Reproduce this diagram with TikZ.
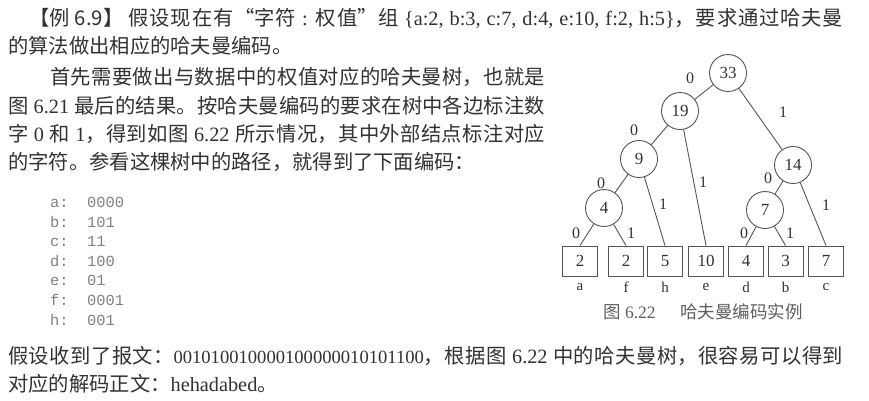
\documentclass[tikz,border=0pt]{standalone}
\usepackage{fontspec}
\setmainfont{Noto Sans CJK SC}
\newfontfamily\lat{Liberation Serif}
\newfontfamily\mono{Liberation Mono}
\XeTeXlinebreaklocale "zh"
\XeTeXlinebreakskip=0pt plus 3pt
\newcommand\la[1]{{\lat #1}}
\newcommand\jline[2]{\parbox{#1}{\tolerance=10000\hbadness=10000\parfillskip=0pt\relax #2\par}}
\definecolor{ink}{RGB}{50,50,50}
\definecolor{codegray}{RGB}{130,130,130}
\definecolor{linegray}{RGB}{85,85,85}
\definecolor{capgray}{RGB}{95,95,95}
\begin{document}
\begin{tikzpicture}[x=1pt,y=-1pt,
  every node/.style={inner sep=0pt, text=ink},
  txt/.style={anchor=west, font=\fontsize{20.3}{24}\selectfont},
  codeline/.style={anchor=west, font=\mono\fontsize{15.4}{18}\selectfont, text=codegray},
  inode/.style={circle, draw=linegray, line width=0.9pt, minimum size=37pt, font=\lat\fontsize{17}{20}\selectfont},
  leaf/.style={rectangle, draw=linegray, line width=0.9pt, minimum width=35pt, minimum height=30pt, font=\lat\fontsize{17}{20}\selectfont},
  elab/.style={font=\lat\fontsize{16}{18}\selectfont},
  llab/.style={font=\lat\fontsize{15}{18}\selectfont},
  captxt/.style={anchor=west, font=\fontsize{17.5}{20}\selectfont, text=capgray},
  conn/.style={draw=linegray, line width=0.9pt}]
\useasboundingbox (0,0) rectangle (869,400);
\fill[white] (0,0) rectangle (869,400);

% text
\node[txt] (t1) at (29,18) {\jline{814pt}{【例 6.9】 假设现在有“字符\la{ : }权值”组 \la{\{a:2, b:3, c:7, d:4, e:10, f:2, h:5\}}，要求通过哈夫曼}};
\node[txt] (t2) at (8,46) {的算法做出相应的哈夫曼编码。};
\node[txt] (p1) at (50,77) {\jline{495pt}{首先需要做出与数据中的权值对应的哈夫曼树，也就是}};
\node[txt] (p2) at (8,106) {\jline{537pt}{图\la{ 6.21 }最后的结果。按哈夫曼编码的要求在树中各边标注数}};
\node[txt] (p3) at (8,134) {\jline{537pt}{字\la{ 0 }和\la{ 1}，得到如图\la{ 6.22 }所示情况，其中外部结点标注对应}};
\node[txt] (p4) at (8,162) {的字符。参看这棵树中的路径，就得到了下面编码：};

\node[codeline] (ca) at (50,202) {a:~~0000};
\node[codeline] (cb) at (50,221.5) {b:~~101};
\node[codeline] (cc) at (50,241) {c:~~11};
\node[codeline] (cd) at (50,261) {d:~~100};
\node[codeline] (ce) at (50,280.5) {e:~~01};
\node[codeline] (cf) at (50,300) {f:~~0001};
\node[codeline] (ch) at (50,320) {h:~~001};

\node[txt] (b1) at (8,356) {\jline{835pt}{假设收到了报文：{\lat\fontsize{18.6}{24}\selectfont 001010010000100000010101100}，根据图\la{ 6.22 }中的哈夫曼树，很容易可以得到}};
\node[txt] (b2) at (8,384) {对应的解码正文：\la{hehadabed}。};

% tree
\node[inode] (n33) at (728,73) {33};
\node[inode] (n19) at (680,111) {19};
\node[inode] (n9) at (639,159) {9};
\node[inode] (n4) at (604,208) {4};
\node[inode] (n14) at (793,165) {14};
\node[inode] (n7) at (765,210) {7};

\node[leaf] (la) at (580,261) {2};
\node[leaf] (lf) at (626,261) {2};
\node[leaf] (lh) at (665,261) {5};
\node[leaf] (le) at (706,261) {10};
\node[leaf] (ld) at (746,261) {4};
\node[leaf] (lb) at (785.5,261) {3};
\node[leaf] (lc) at (826,261) {7};

\node[llab] (ta) at (580,287) {a};
\node[llab] (tf) at (626,287) {f};
\node[llab] (th) at (665,287) {h};
\node[llab] (te) at (706,287) {e};
\node[llab] (td) at (746,287) {d};
\node[llab] (tb) at (785.5,287) {b};
\node[llab] (tc) at (826,287) {c};

\path[conn] (n33) -- (n19);
\path[conn] (n33) -- (n14);
\path[conn] (n19) -- (n9);
\path[conn] (n19) -- (le.north);
\path[conn] (n9) -- (n4);
\path[conn] (n9) -- (lh.north);
\path[conn] (n4) -- (la.north);
\path[conn] (n4) -- (lf.north);
\path[conn] (n14) -- (n7);
\path[conn] (n14) -- (lc.north);
\path[conn] (n7) -- (ld.north);
\path[conn] (n7) -- (lb.north);

\node[elab] (e1) at (690,78) {0};
\node[elab] (e2) at (783,112) {1};
\node[elab] (e3) at (634,130) {0};
\node[elab] (e4) at (703,182) {1};
\node[elab] (e5) at (601,183) {0};
\node[elab] (e6) at (663,204) {1};
\node[elab] (e7) at (576,233) {0};
\node[elab] (e8) at (631,233) {1};
\node[elab] (e9) at (768,178) {0};
\node[elab] (e10) at (826,205) {1};
\node[elab] (e11) at (744,233) {0};
\node[elab] (e12) at (790,233) {1};

\node[captxt] (capt) at (603,312) {图\la{ 6.22}\hspace{1.4em}哈夫曼编码实例};
\end{tikzpicture}
\end{document}
